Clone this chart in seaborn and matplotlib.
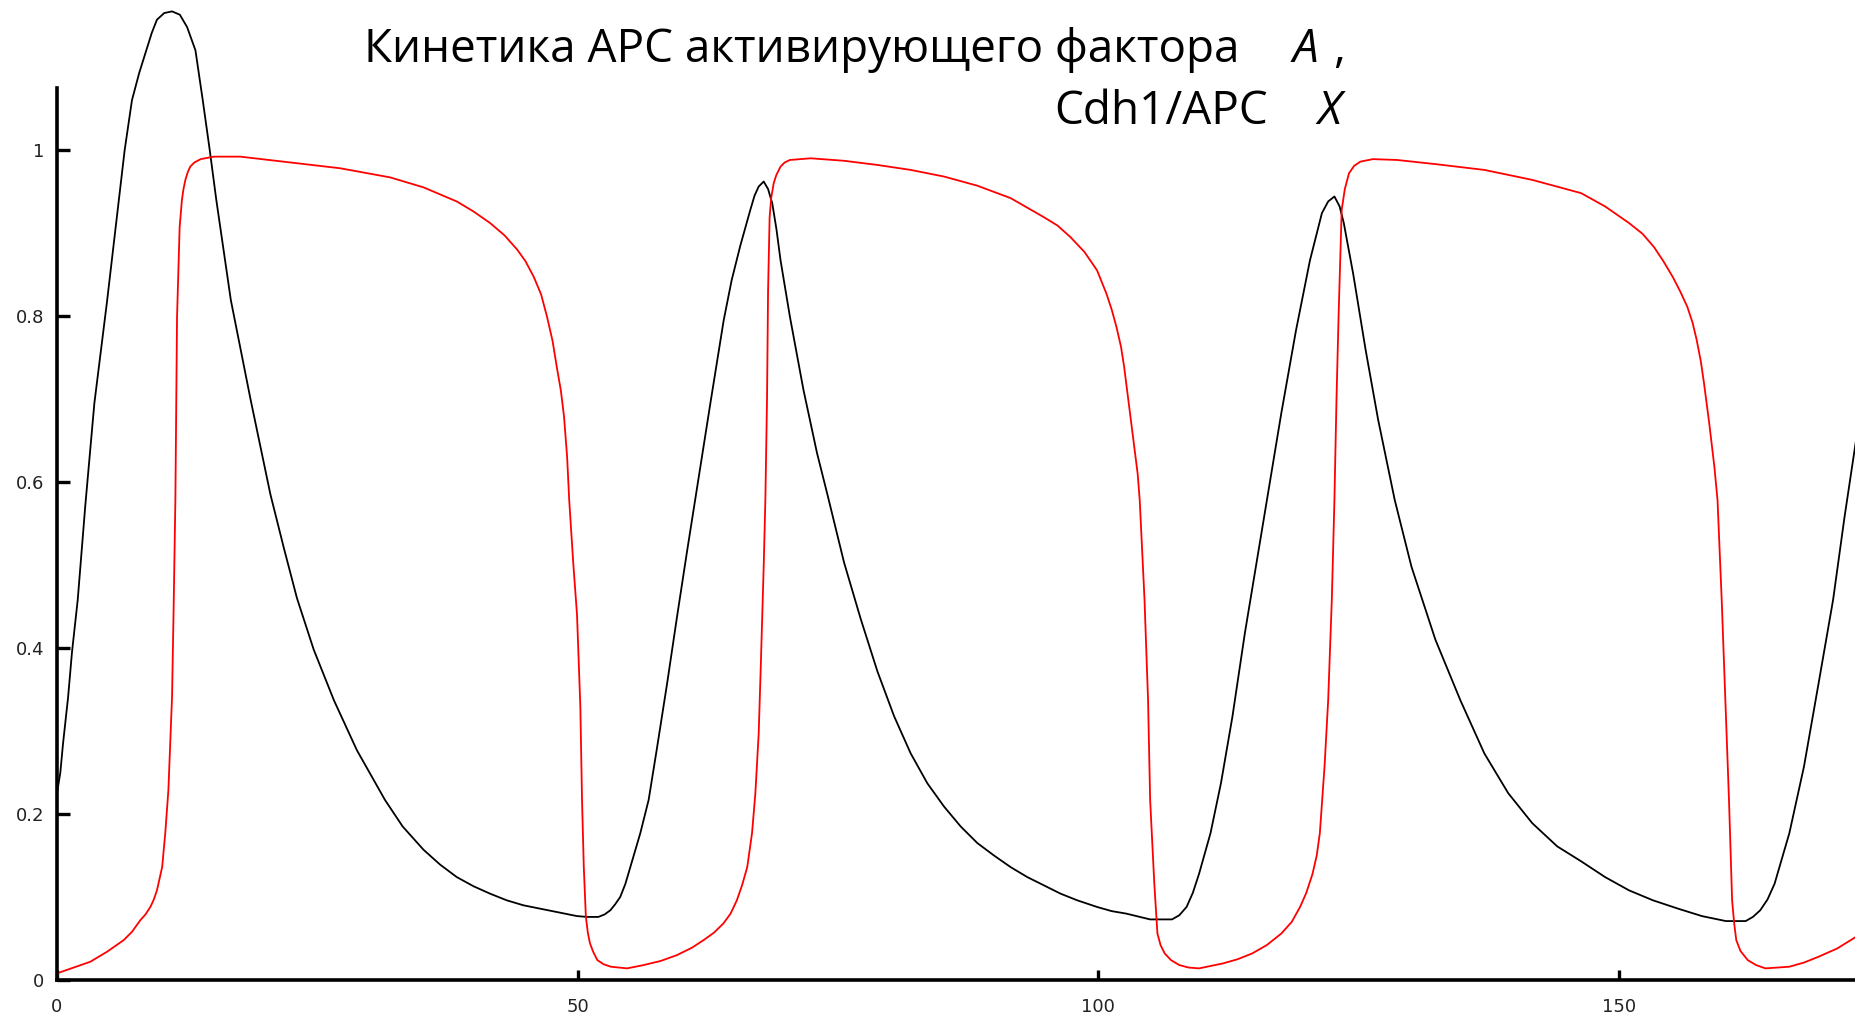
import numpy as np
import pandas as pd
import matplotlib
matplotlib.use("Agg")
import matplotlib.pyplot as plt
import seaborn as sns

# ---- data ----
t_A = [0, 0.32, 0.58, 1.06, 1.44, 1.99, 2.72, 3.59, 4.8, 5.92, 6.5, 7.2, 7.9, 8.58, 9.1,
       9.6, 10.3, 11.05, 11.8, 12.5, 13.3, 14.0, 14.67, 15.3, 16.7, 18.6, 20.5, 21.8,
       23.05, 24.66, 26.6, 28.8, 31.5, 33.2, 35.2, 36.8, 38.4, 40.0, 41.6, 43.2, 44.8,
       46.4, 48.0, 49.95, 50.9, 52.0, 52.6, 53.15, 53.6, 54.1, 54.6, 55.07, 56.03, 56.83,
       57.6, 58.6, 59.56, 60.5, 61.5, 62.76, 64.04, 64.8, 65.64, 66.6, 67.0, 67.4, 67.88,
       68.3, 68.7, 69.1, 69.5, 70.4, 71.7, 73.0, 74.0, 75.6, 77.2, 78.8, 80.4, 82.0, 83.6,
       85.2, 86.8, 88.4, 90.0, 91.6, 93.2, 94.8, 96.4, 98.0, 99.9, 101.3, 102.7, 104.0,
       105.0, 107.1, 107.8, 108.5, 109.1, 109.7, 110.8, 111.8, 112.9, 114.1, 115.25,
       116.4, 117.6, 119.0, 120.35, 121.5, 122.1, 122.7, 123.2, 123.6, 124.5, 125.7,
       126.9, 128.5, 130.1, 132.4, 134.8, 137.1, 139.4, 141.7, 144.1, 146.4, 148.7,
       151.0, 153.3, 155.7, 158.0, 160.3, 162.2, 162.9, 163.6, 164.3, 164.98, 166.4,
       167.8, 169.2, 170.6, 171.7, 172.8]
A_vals = [0.225, 0.25, 0.285, 0.34, 0.395, 0.458, 0.572, 0.695, 0.817, 0.938, 1.0, 1.06,
          1.093, 1.12, 1.141, 1.157, 1.165, 1.167, 1.163, 1.148, 1.12, 1.06, 1.0, 0.94,
          0.819, 0.699, 0.585, 0.52, 0.46, 0.398, 0.337, 0.277, 0.217, 0.185, 0.157,
          0.139, 0.124, 0.113, 0.104, 0.096, 0.090, 0.086, 0.082, 0.077, 0.076, 0.076,
          0.079, 0.084, 0.091, 0.10, 0.116, 0.136, 0.177, 0.217, 0.277, 0.357, 0.438,
          0.515, 0.595, 0.695, 0.795, 0.843, 0.885, 0.928, 0.945, 0.956, 0.962, 0.953,
          0.936, 0.905, 0.867, 0.799, 0.711, 0.635, 0.585, 0.503, 0.435, 0.372, 0.318,
          0.273, 0.237, 0.209, 0.185, 0.165, 0.150, 0.136, 0.124, 0.114, 0.104, 0.096,
          0.088, 0.083, 0.080, 0.076, 0.073, 0.073, 0.078, 0.088, 0.105, 0.128, 0.177,
          0.237, 0.317, 0.418, 0.505, 0.592, 0.683, 0.782, 0.867, 0.924, 0.938, 0.944,
          0.932, 0.912, 0.851, 0.759, 0.675, 0.578, 0.498, 0.410, 0.337, 0.273, 0.225,
          0.189, 0.161, 0.143, 0.124, 0.108, 0.096, 0.086, 0.077, 0.071, 0.071, 0.076,
          0.084, 0.097, 0.116, 0.177, 0.257, 0.357, 0.458, 0.558, 0.65]

t_X = [0, 1.6, 3.2, 4.8, 6.4, 7.2, 8.0, 8.5, 8.97, 9.3, 9.6, 10.1, 10.4, 10.7, 11.05, 11.2,
       11.37, 11.53, 11.78, 12.0, 12.15, 12.33, 12.55, 12.8, 13.2, 13.8, 15.05, 17.6,
       22.4, 27.2, 32.0, 35.2, 38.4, 40.0, 41.6, 43.0, 44.2, 45.0, 45.8, 46.5, 47.07,
       47.6, 48.0, 48.4, 48.7, 49.0, 49.2, 49.6, 49.95, 50.27, 50.43, 50.6, 50.8, 51.0,
       51.2, 51.5, 51.9, 52.5, 53.2, 54.75, 56.35, 58.0, 59.55, 61.0, 62.1, 63.1, 64.0,
       64.7, 65.3, 65.8, 66.3, 66.76, 67.08, 67.4, 67.6, 67.88, 68.04, 68.2, 68.3, 68.45,
       68.6, 68.84, 69.1, 69.5, 69.9, 70.4, 72.4, 75.6, 78.8, 82.0, 85.2, 88.4, 91.6,
       94.8, 96.1, 97.35, 98.7, 99.9, 100.8, 101.3, 101.76, 102.2, 102.5, 102.9, 103.2,
       103.5, 103.8, 104.0, 104.46, 104.8, 105.0, 105.4, 105.7, 106.0, 106.4, 107.0,
       107.8, 108.7, 109.7, 112.0, 113.4, 114.8, 116.2, 117.6, 118.6, 119.4, 120.0,
       120.6, 121.0, 121.3, 121.75, 122.1, 122.45, 122.7, 122.9, 123.1, 123.4, 123.7,
       124.1, 124.6, 125.2, 126.4, 128.7, 132.4, 137.1, 141.7, 146.4, 148.7, 151.0,
       152.3, 153.4, 154.3, 155.2, 155.9, 156.6, 157.1, 157.5, 157.9, 158.2, 158.7,
       159.2, 159.5, 159.9, 160.25, 160.6, 160.9, 161.1, 161.3, 161.7, 162.4, 163.2,
       164.1, 166.4, 167.8, 169.2, 171.0, 172.8]
X_vals = [0.008, 0.015, 0.022, 0.034, 0.048, 0.058, 0.072, 0.079, 0.088, 0.097, 0.108,
          0.136, 0.177, 0.229, 0.341, 0.446, 0.578, 0.799, 0.907, 0.94, 0.953, 0.964,
          0.973, 0.980, 0.985, 0.989, 0.992, 0.992, 0.985, 0.978, 0.967, 0.955, 0.938,
          0.926, 0.912, 0.897, 0.880, 0.866, 0.847, 0.826, 0.799, 0.77, 0.739, 0.71,
          0.679, 0.63, 0.578, 0.50, 0.44, 0.329, 0.217, 0.136, 0.076, 0.056, 0.044, 0.034,
          0.024, 0.019, 0.016, 0.014, 0.018, 0.023, 0.030, 0.039, 0.048, 0.057, 0.068,
          0.080, 0.096, 0.114, 0.136, 0.177, 0.225, 0.297, 0.378, 0.498, 0.578, 0.70,
          0.83, 0.919, 0.942, 0.960, 0.970, 0.980, 0.985, 0.988, 0.990, 0.987, 0.982,
          0.976, 0.968, 0.957, 0.942, 0.919, 0.909, 0.895, 0.877, 0.855, 0.827, 0.808,
          0.787, 0.763, 0.739, 0.699, 0.67, 0.639, 0.61, 0.578, 0.458, 0.337, 0.217,
          0.116, 0.056, 0.042, 0.032, 0.024, 0.018, 0.015, 0.014, 0.020, 0.025, 0.032,
          0.042, 0.056, 0.070, 0.088, 0.105, 0.128, 0.15, 0.177, 0.257, 0.337, 0.458,
          0.578, 0.70, 0.80, 0.928, 0.953, 0.972, 0.981, 0.986, 0.989, 0.988, 0.983,
          0.976, 0.964, 0.948, 0.932, 0.912, 0.899, 0.883, 0.866, 0.847, 0.830, 0.811,
          0.792, 0.771, 0.745, 0.719, 0.671, 0.618, 0.578, 0.458, 0.337, 0.217, 0.096,
          0.068, 0.048, 0.035, 0.024, 0.018, 0.014, 0.016, 0.021, 0.028, 0.038, 0.052]

x_ticks = [0, 50, 100, 150]
x_tick_labels = ["0", "50", "100", "150"]
y_ticks = [0, 0.2, 0.4, 0.6, 0.8, 1.0]
y_tick_labels = ["0", "0.2", "0.4", "0.6", "0.8", "1"]

title_line1 = "Кинетика APC активирующего фактора"
title_sym1 = "A"
title_line2 = "Cdh1/APC"
title_sym2 = "X"

# ---- figure ----
sns.set_style("white")
W, H = 1856, 1021
fig = plt.figure(figsize=(W / 100, H / 100), dpi=100)
fig.patch.set_facecolor("white")

ax = fig.add_axes([57 / W, 41 / H, 1 - 57 / W, 980 / H])
dfA = pd.DataFrame({"t": t_A, "v": A_vals})
dfX = pd.DataFrame({"t": t_X, "v": X_vals})
sns.lineplot(data=dfA, x="t", y="v", ax=ax, color="black", linewidth=1.3,
             estimator=None, sort=False)
sns.lineplot(data=dfX, x="t", y="v", ax=ax, color="#ff0000", linewidth=1.3,
             estimator=None, sort=False)

ax.set_xlim(0, 172.8)
ax.set_ylim(0, 980 / 830)
ax.set_xlabel("")
ax.set_ylabel("")
ax.set_facecolor("white")

for s in ["top", "right"]:
    ax.spines[s].set_visible(False)
for s in ["left", "bottom"]:
    ax.spines[s].set_color("black")
    ax.spines[s].set_linewidth(2.6)
ax.spines["left"].set_bounds(0, 1.075)

ax.set_xticks(x_ticks)
ax.set_xticklabels(x_tick_labels)
ax.set_yticks(y_ticks)
ax.set_yticklabels(y_tick_labels)
ax.tick_params(axis="y", left=True, direction="in", length=9, width=2.4, color="black",
               labelsize=13, pad=9, labelcolor="#222222")
ax.tick_params(axis="x", bottom=True, direction="in", length=7, width=2.4, color="black",
               labelsize=13, pad=13, labelcolor="#222222")
ax.grid(False)

# ---- title ----
tfont = ["Open Sans", "DejaVu Sans"]
fs = 33
fig.text(1240 / W, 1 - 62 / H, title_line1, ha="right", va="baseline",
         fontsize=fs, family=tfont, color="black")
fig.text(1293 / W, 1 - 62 / H, title_sym1, ha="left", va="baseline",
         fontsize=fs, family=tfont, style="italic", color="black")
fig.text(1333 / W, 1 - 62 / H, ",", ha="left", va="baseline",
         fontsize=fs, family=tfont, color="black")
fig.text(1268 / W, 1 - 124 / H, title_line2, ha="right", va="baseline",
         fontsize=fs, family=tfont, color="black")
fig.text(1317 / W, 1 - 124 / H, title_sym2, ha="left", va="baseline",
         fontsize=fs, family=tfont, style="italic", color="black")

fig.savefig("out.png", dpi=100, facecolor="white")
